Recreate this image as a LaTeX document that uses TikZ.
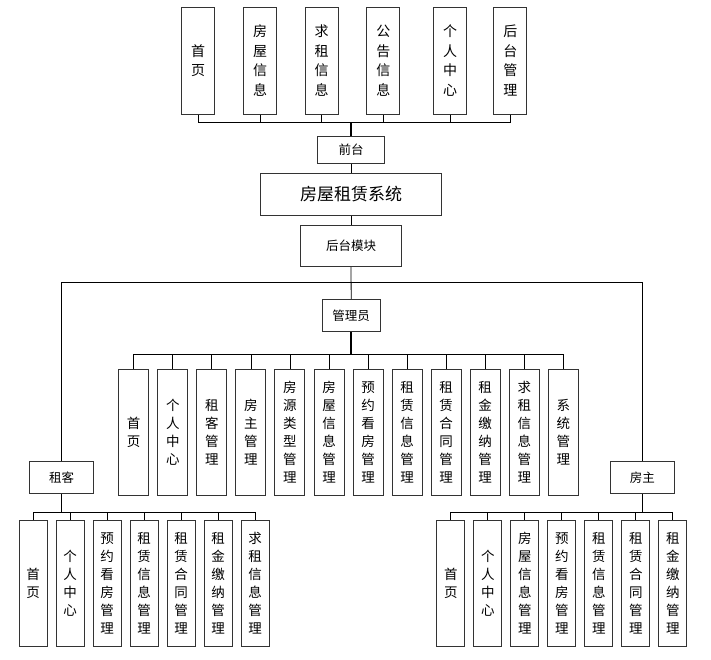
\documentclass[tikz,border=0pt]{standalone}
\usepackage{fontspec}
\newfontfamily\cjk{Noto Sans CJK SC}
\usepackage{tikz}
\tikzset{
  vbox/.style   = {rectangle, draw=black!80, fill=white, line width=0.9pt,
                   inner sep=0pt, align=center,
                   font=\cjk\fontsize{13.5}{18}\selectfont},
  topbox/.style = {vbox, minimum width=33pt, minimum height=107pt,
                   font=\cjk\fontsize{14}{19.5}\selectfont},
  admbox/.style = {vbox, minimum width=30pt, minimum height=125.7pt},
  subbox/.style = {vbox, minimum width=28pt, minimum height=125.3pt},
  hbox/.style   = {rectangle, draw=black!80, fill=white, line width=0.9pt,
                   inner sep=0pt, font=\cjk\fontsize{12.5}{14}\selectfont},
  link/.style   = {line width=0.8pt},
  trunk/.style  = {line width=1.5pt},
}

\begin{document}
\begin{tikzpicture}[x=1pt, y={(0pt,-1pt)}]
  \useasboundingbox[fill=white] (0,0) rectangle (711,659);

  % front end
  \node[topbox] (front1) at (198.0,60.7) {首\\页};
  \node[topbox] (front2) at (260.0,60.7) {房\\屋\\信\\息};
  \node[topbox] (front3) at (321.7,60.7) {求\\租\\信\\息};
  \node[topbox] (front4) at (383.3,60.7) {公\\告\\信\\息};
  \node[topbox] (front5) at (450.0,60.7) {个\\人\\中\\心};
  \node[topbox] (front6) at (510.3,60.7) {后\\台\\管\\理};
  \coordinate (frontbus) at (351,122);

  \node[hbox, minimum width=66.3pt, minimum height=26.6pt] (front) at (351,150) {前台};
  \node[hbox, minimum width=181pt, minimum height=41.7pt,
        font=\cjk\fontsize{17}{20}\selectfont] (sys) at (351,194.2) {房屋租赁系统};
  \node[hbox, minimum width=100.3pt, minimum height=41.7pt] (back) at (351,245.8) {后台模块};
  \coordinate (rolebus) at (351,282.3);

  % roles
  \node[hbox, minimum width=57.7pt, minimum height=32.4pt] (admin) at (351.2,315.5) {管理员};
  \node[hbox, minimum width=64pt, minimum height=31.6pt] (tenant) at (61.5,477.5) {租客};
  \node[hbox, minimum width=64pt, minimum height=31.6pt] (owner) at (642.3,477.5) {房主};

  % administrator modules
  \node[admbox] (adm1)  at (133.7,432.2) {首\\页};
  \node[admbox] (adm2)  at (172.8,432.2) {个\\人\\中\\心};
  \node[admbox] (adm3)  at (211.8,432.2) {租\\客\\管\\理};
  \node[admbox] (adm4)  at (250.9,432.2) {房\\主\\管\\理};
  \node[admbox] (adm5)  at (289.9,432.2) {房\\源\\类\\型\\管\\理};
  \node[admbox] (adm6)  at (329.0,432.2) {房\\屋\\信\\息\\管\\理};
  \node[admbox] (adm7)  at (368.1,432.2) {预\\约\\看\\房\\管\\理};
  \node[admbox] (adm8)  at (407.1,432.2) {租\\赁\\信\\息\\管\\理};
  \node[admbox] (adm9)  at (446.2,432.2) {租\\赁\\合\\同\\管\\理};
  \node[admbox] (adm10) at (485.2,432.2) {租\\金\\缴\\纳\\管\\理};
  \node[admbox] (adm11) at (524.3,432.2) {求\\租\\信\\息\\管\\理};
  \node[admbox] (adm12) at (563.3,432.2) {系\\统\\管\\理};
  \coordinate (admbus) at (351.2,354);

  % tenant modules
  \node[subbox] (ten1) at (33,583.3)  {首\\页};
  \node[subbox] (ten2) at (70,583.3)  {个\\人\\中\\心};
  \node[subbox] (ten3) at (107,583.3) {预\\约\\看\\房\\管\\理};
  \node[subbox] (ten4) at (144,583.3) {租\\赁\\信\\息\\管\\理};
  \node[subbox] (ten5) at (181,583.3) {租\\赁\\合\\同\\管\\理};
  \node[subbox] (ten6) at (218,583.3) {租\\金\\缴\\纳\\管\\理};
  \node[subbox] (ten7) at (255,583.3) {求\\租\\信\\息\\管\\理};
  \coordinate (tenbus) at (61.5,512.7);

  % owner modules
  \node[subbox] (own1) at (450.8,583.3) {首\\页};
  \node[subbox] (own2) at (487.8,583.3) {个\\人\\中\\心};
  \node[subbox] (own3) at (524.8,583.3) {房\\屋\\信\\息\\管\\理};
  \node[subbox] (own4) at (561.8,583.3) {预\\约\\看\\房\\管\\理};
  \node[subbox] (own5) at (598.8,583.3) {租\\赁\\信\\息\\管\\理};
  \node[subbox] (own6) at (635.8,583.3) {租\\赁\\合\\同\\管\\理};
  \node[subbox] (own7) at (672.8,583.3) {租\\金\\缴\\纳\\管\\理};
  \coordinate (ownbus) at (642.3,512.7);

  % connectors
  \draw[link] (front1.south) |- (frontbus);
  \draw[link] (front2.south) |- (frontbus);
  \draw[link] (front3.south) |- (frontbus);
  \draw[link] (front4.south) |- (frontbus);
  \draw[link] (front5.south) |- (frontbus);
  \draw[link] (front6.south) |- (frontbus);
  \draw[trunk] (front.north) -- (frontbus);
  \draw[link] (front.south) -- (sys.north);
  \draw[link] (sys.south) -- (back.north);
  \draw[link] (back.south) -- (admin.north);
  \draw[link] (tenant.north) |- (rolebus) -| (owner.north);

  \draw[link] (adm1.north) |- (admbus);
  \draw[link] (adm2.north) |- (admbus);
  \draw[link] (adm3.north) |- (admbus);
  \draw[link] (adm4.north) |- (admbus);
  \draw[link] (adm5.north) |- (admbus);
  \draw[link] (adm6.north) |- (admbus);
  \draw[link] (adm7.north) |- (admbus);
  \draw[link] (adm8.north) |- (admbus);
  \draw[link] (adm9.north) |- (admbus);
  \draw[link] (adm10.north) |- (admbus);
  \draw[link] (adm11.north) |- (admbus);
  \draw[link] (adm12.north) |- (admbus);
  \draw[trunk] (admin.south) -- (admbus);

  \draw[link] (ten1.north) |- (tenbus);
  \draw[link] (ten2.north) |- (tenbus);
  \draw[link] (ten3.north) |- (tenbus);
  \draw[link] (ten4.north) |- (tenbus);
  \draw[link] (ten5.north) |- (tenbus);
  \draw[link] (ten6.north) |- (tenbus);
  \draw[link] (ten7.north) |- (tenbus);
  \draw[trunk] (tenant.south) -- (tenbus);

  \draw[link] (own1.north) |- (ownbus);
  \draw[link] (own2.north) |- (ownbus);
  \draw[link] (own3.north) |- (ownbus);
  \draw[link] (own4.north) |- (ownbus);
  \draw[link] (own5.north) |- (ownbus);
  \draw[link] (own6.north) |- (ownbus);
  \draw[link] (own7.north) |- (ownbus);
  \draw[link] (owner.south) -- (ownbus);
\end{tikzpicture}
\end{document}
